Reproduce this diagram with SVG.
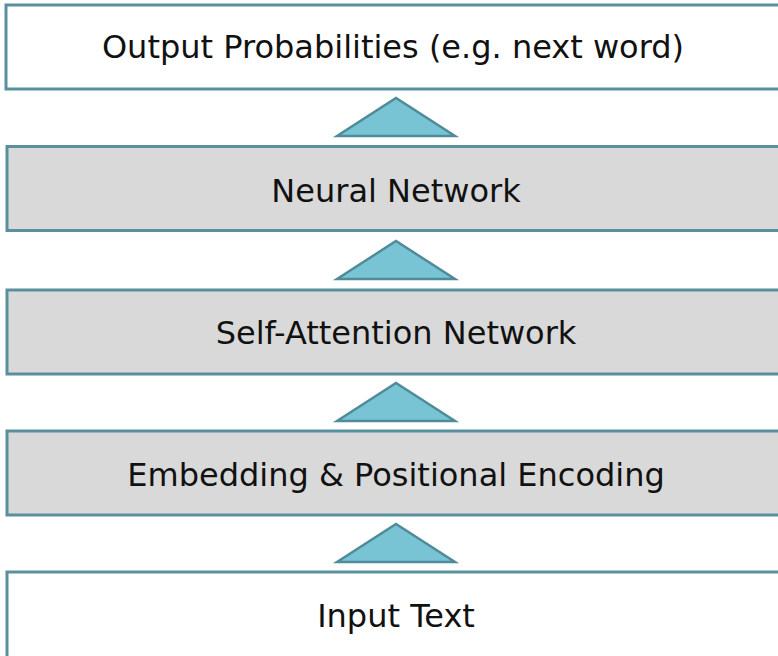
<svg xmlns="http://www.w3.org/2000/svg" width="778" height="656" viewBox="0 0 778 656">
  <style>
    .box { stroke: #5a8f9c; stroke-width: 3; }
    .plain { fill: #ffffff; }
    .shaded { fill: #d9d9d9; }
    .label { font-family: "DejaVu Sans", Verdana, sans-serif; font-size: 32px; fill: #111111; text-anchor: middle; }
    .arrow { fill: #78c4d4; stroke: #4f8b98; stroke-width: 2.5; stroke-linejoin: miter; }
  </style>
  <rect width="778" height="656" fill="#ffffff"/>

  <g id="output">
    <rect class="box plain" x="6" y="5" width="800" height="84"/>
    <text class="label" x="393" y="57.5">Output Probabilities (e.g. next word)</text>
  </g>
  <g id="neural-network">
    <rect class="box shaded" x="7" y="146.5" width="800" height="84"/>
    <text class="label" x="396" y="201.5">Neural Network</text>
  </g>
  <g id="self-attention">
    <rect class="box shaded" x="7" y="290" width="800" height="84"/>
    <text class="label" x="396" y="343.5">Self-Attention Network</text>
  </g>
  <g id="embedding">
    <rect class="box shaded" x="7" y="431" width="800" height="84"/>
    <text class="label" x="396" y="486">Embedding &amp; Positional Encoding</text>
  </g>
  <g id="input">
    <rect class="box plain" x="7" y="572" width="800" height="86"/>
    <text class="label" x="396" y="626.5">Input Text</text>
  </g>

  <g id="connectors">
    <polygon class="arrow" points="337,136 396,98 455,136"/>
    <polygon class="arrow" points="337,279 396,241 455,279"/>
    <polygon class="arrow" points="337,421 396,383 455,421"/>
    <polygon class="arrow" points="337,562 396,524 455,562"/>
  </g>
</svg>
